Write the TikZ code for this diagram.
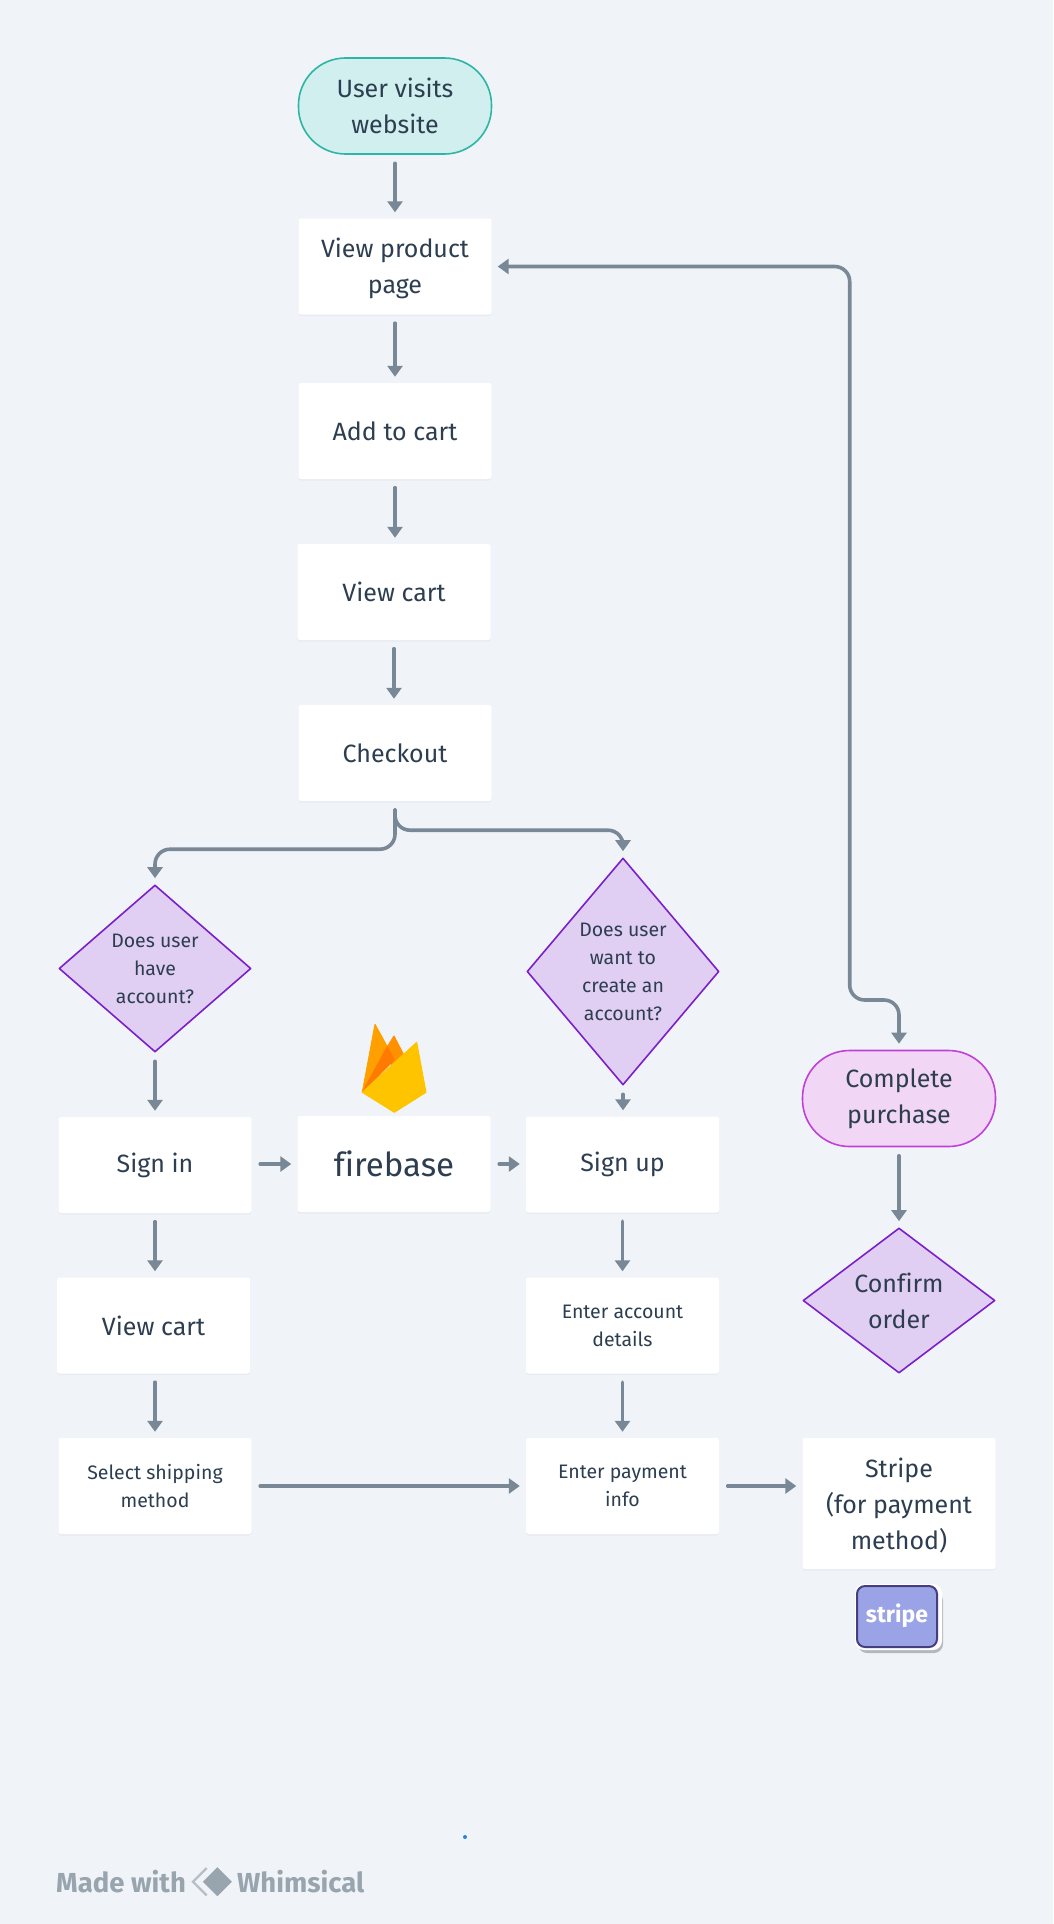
\documentclass[tikz,border=0pt]{standalone}
\usepackage{fontspec}
\setmainfont[Ligatures=NoCommon]{Fira Sans}
\newfontfamily\madefont{Fira Sans}
\newfontfamily\logofont{Fira Sans}
\newcommand\lowtop{\rule{0pt}{24pt}}
\usetikzlibrary{shapes.geometric,arrows.meta,shadows,calc}
\definecolor{bgc}{HTML}{F0F4F8}
\definecolor{ink}{HTML}{2D3E50}
\definecolor{linec}{HTML}{788896}
\definecolor{tealb}{HTML}{2DB5A5}
\definecolor{tealf}{HTML}{D0EFEE}
\definecolor{purpb}{HTML}{7B1FCB}
\definecolor{purpf}{HTML}{E1CFF3}
\definecolor{pinkb}{HTML}{C040D8}
\definecolor{pinkf}{HTML}{F1D6F5}
\definecolor{graytxt}{HTML}{98A4AE}
\definecolor{flamea}{HTML}{FFA000}
\definecolor{flameb}{HTML}{FF9100}
\definecolor{flamec}{HTML}{FF7A00}
\definecolor{flamed}{HTML}{FFC400}
\definecolor{stripef}{HTML}{9AA3E6}
\definecolor{stripeb}{HTML}{453F7F}
\definecolor{stripes}{HTML}{B4B8BC}
\definecolor{dotc}{HTML}{2B83E0}
\tikzset{
  x=1pt,y=-1pt,
  boxnode/.style={rectangle,rounded corners=2.5pt,fill=white,minimum width=193pt,minimum height=96pt,inner sep=0pt,align=center,text=ink,font=\fontsize{25}{36}\selectfont,
    copy shadow={draw=none,fill=black,opacity=0.035,shadow xshift=0pt,shadow yshift=-1.5pt}},
  smallbox/.style={boxnode,font=\fontsize{19.5}{28}\selectfont},
  pill/.style={rectangle,rounded corners=47pt,minimum width=193pt,minimum height=96pt,inner sep=0pt,align=center,text=ink,line width=1.6pt,font=\fontsize{25}{36}\selectfont},
  decide/.style={diamond,draw=purpb,fill=purpf,line width=1.6pt,inner sep=0pt,align=center,text=ink,line join=round},
  flow/.style={draw=linec,line width=3.6pt,rounded corners=15pt,line cap=round,-{Triangle[length=11pt,width=15pt]},shorten >=6pt,shorten <=8.5pt},
  biflow/.style={flow,{Triangle[length=11pt,width=15pt]}-{Triangle[length=11pt,width=15pt]},shorten <=6pt},
  footer/.style={anchor=base west,inner sep=0pt,text=graytxt,font=\madefont\bfseries\fontsize{27.5}{30}\selectfont},
}
\begin{document}
\begin{tikzpicture}
\useasboundingbox[fill=bgc] (0,0) rectangle (1053,1924);
% nodes
\node[pill,draw=tealb,fill=tealf] (visit) at (395,106) {User visits\\website};
\node[boxnode] (view) at (395,266.5) {\lowtop View product\\page};
\node[boxnode] (add) at (395,431) {Add to cart};
\node[boxnode] (cart) at (394,592) {View cart};
\node[boxnode] (check) at (395,753) {Checkout};
\node[decide,minimum width=192pt,minimum height=167pt,font=\fontsize{19.5}{28}\selectfont] (have) at (155,968.5) {Does user\\have\\account?};
\node[decide,minimum width=192pt,minimum height=227pt,font=\fontsize{19.5}{28}\selectfont] (want) at (623,971.5) {Does user\\want to\\create an\\account?};
\node[boxnode] (signin) at (155,1165) {Sign in};
\node[boxnode,font=\fontsize{33}{40}\selectfont] (fire) at (394,1164) {firebase};
\node[boxnode] (signup) at (622.5,1164.5) {Sign up};
\node[boxnode] (cart2) at (153.5,1325.5) {View cart};
\node[smallbox] (details) at (622.5,1325.5) {Enter account\\details};
\node[smallbox] (ship) at (155,1486) {Select shipping\\method};
\node[smallbox] (pay) at (622.5,1486) {Enter payment\\info};
\node[boxnode,minimum height=131pt] (stripe) at (899,1503.5) {\lowtop Stripe\\(for payment\\method)};
\node[pill,draw=pinkb,fill=pinkf] (complete) at (899,1098.5) {Complete\\purchase};
\node[decide,minimum width=192pt,minimum height=145pt,font=\fontsize{25}{36}\selectfont] (confirm) at (899,1300.5) {Confirm\\order};
% connectors
\draw[flow] (visit) -- (view);
\draw[flow] (view) -- (add);
\draw[flow] (add) -- (add.south |- cart.north);
\draw[flow] (cart) -- (check.north -| cart.north);
\draw[flow] (check.south) -- ++(0,48) -| (have.north);
\draw[flow] (check.south) -- ++(0,29) -| (want.north);
\draw[flow] (have) -- (signin);
\draw[flow] (want.south) -- (signup.north -| want.south);
\draw[flow] (signin.east |- fire.west) -- (fire.west);
\draw[flow] (fire) -- (signup.west |- fire.east);
\draw[flow] (signin.south) -- (signin.south |- cart2.north);
\draw[flow] (signin.south |- cart2.south) -- (ship.north);
\draw[flow] (signup) -- (details);
\draw[flow] (details) -- (pay);
\draw[flow] (ship) -- (pay);
\draw[flow] (pay.east) -- (pay.east -| stripe.west);
\draw[flow] (complete) -- (confirm);
\draw[biflow] (view.east) -- ++(358,0) |- (899,1000) -- (complete.north);
% firebase flame
\begin{scope}[line join=round,line width=1pt]
\filldraw[draw=flamea,fill=flamea] (362.3,1092.3) -- (375,1024.3) -- (387.3,1046.7) -- cycle;
\filldraw[draw=flameb,fill=flameb] (387.3,1046.7) -- (394,1036) -- (403.3,1054) -- (394,1075) -- cycle;
\filldraw[draw=flamec,fill=flamec] (362.3,1092.3) -- (387.3,1046.7) -- (394,1060) -- cycle;
\filldraw[draw=flamed,fill=flamed] (362.3,1092.3) -- (416.7,1042.3) -- (426,1092.3) -- (394.3,1112.3) -- cycle;
\end{scope}
% stripe logo
\fill[stripes,rounded corners=9pt] (858,1592) rectangle (943,1653);
\fill[white,rounded corners=9pt] (855,1584) rectangle (942,1650);
\draw[draw=stripeb,fill=stripef,line width=2pt,rounded corners=8pt] (857,1586) rectangle (937,1647);
\node[text=white,font=\logofont\bfseries\fontsize{23}{28}\selectfont,inner sep=0pt] (logo) at (897,1616) {stripe};
% footer
\fill[dotc] (465,1837) circle (2pt);
\node[footer] (made) at (56,1892) {Made with};
\node[footer] (whim) at (237,1892) {Whimsical};
\draw[graytxt!70,line width=2.4pt] (206.7,1868) -- (193,1881.7) -- (206.7,1895.4);
\fill[graytxt] (217.3,1867.2) -- (231.8,1881.7) -- (217.3,1896.2) -- (202.8,1881.7) -- cycle;
\end{tikzpicture}
\end{document}
